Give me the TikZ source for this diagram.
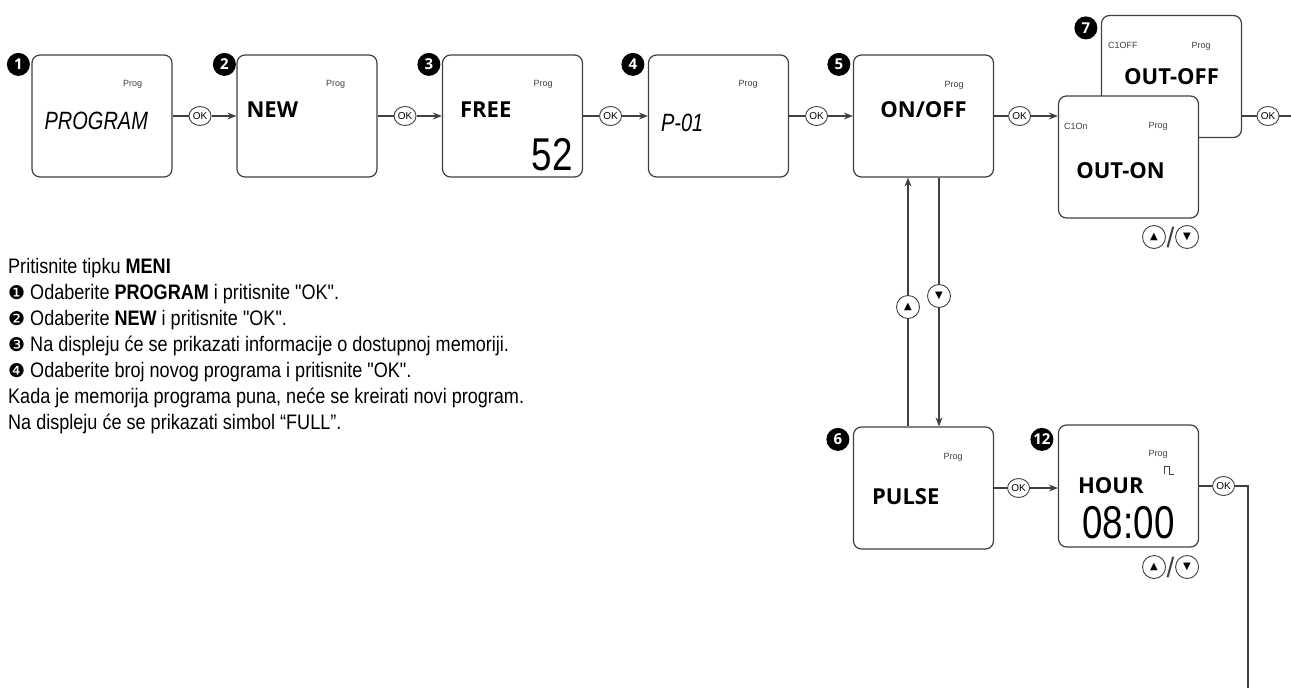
\documentclass[tikz,border=0pt]{standalone}
\usepackage{fontspec}
\setmainfont{Liberation Sans}
\newfontfamily\menufont{Liberation Sans}[FakeStretch=0.86]
\newfontfamily\dispfont{Open Sans}
\newfontfamily\segfont{Liberation Sans}[FakeStretch=0.8]
\newfontfamily\symfont{DejaVu Sans}
\usepackage{tikz}
\usetikzlibrary{arrows.meta,positioning,shapes.geometric}
\definecolor{lcd}{gray}{0.25}

\begin{document}
\begin{tikzpicture}[
      x=1pt, y=-1pt,
      every node/.style={font=\fontsize{9}{11}\selectfont},
      disp/.style={rectangle, draw=lcd, line width=1.2pt, rounded corners=8pt, fill=white,
                   minimum width=140pt, minimum height=122pt},
      badge/.style={circle, fill=black, text=white, minimum size=23pt, inner sep=0pt,
                    font=\dispfont\bfseries\fontsize{15}{15}\selectfont},
      okbtn/.style={ellipse, draw=lcd, line width=0.9pt, fill=white, minimum width=22pt,
                    minimum height=19pt, inner sep=0pt, font=\fontsize{10}{10}\selectfont},
      arrbtn/.style={circle, draw=lcd, line width=0.9pt, fill=white, minimum size=23pt,
                     inner sep=0pt, font=\symfont\fontsize{10}{10}\selectfont},
      slash/.style={inner sep=0pt, text=lcd, font=\fontsize{28}{28}\selectfont},
      prog/.style={inner sep=0pt, text=lcd, font=\fontsize{9}{9}\selectfont},
      word/.style={inner sep=0pt, font=\dispfont\bfseries\fontsize{22}{22}\selectfont},
      seg/.style={inner sep=0pt, font=\segfont\itshape\fontsize{25}{25}\selectfont},
      digits/.style={inner sep=0pt, font=\segfont\fontsize{46}{46}\selectfont},
      flow/.style={draw=lcd, line width=1.1pt},
      >={Stealth[length=9pt,width=7pt]},
    ]
    \useasboundingbox (0,0) rectangle (1291,688);

    % Display screens, top row
    \node[disp] (p1) at (102,116) {};
    \node[disp] (p2) at (307,116) {};
    \node[disp] (p3) at (512.5,116) {};
    \node[disp] (p4) at (718.5,116) {};
    \node[disp] (p5) at (923.5,116) {};

    % Step 7: two stacked screens (back one first)
    \node[disp] (p7off) at (1171.5,76.5) {};
    \node[prog, anchor=west] at ([shift={(7,31)}]p7off.north west) {C1OFF};
    \node[prog] at ([shift={(-41,31)}]p7off.north east) {Prog};
    \node[word] at ([shift={(0,62)}]p7off.north) {OUT-OFF};
    \node[disp] (p7on) at (1128.5,157) {};
    \node[prog, anchor=west] at ([shift={(6,31)}]p7on.north west) {C1On};
    \node[prog] at ([shift={(-41,31)}]p7on.north east) {Prog};
    \node[word] at ([shift={(-8,75)}]p7on.north) {OUT-ON};

    % Screens of the lower row
    \node[disp] (p6) at (923.5,488) {};
    \node[disp] (p12) at (1128.5,486) {};

    % Screen contents
    \node[prog] at ([shift={(-40,30)}]p1.north east) {Prog};
    \node[seg, anchor=west] at ([shift={(13,66)}]p1.north west) {PROGRAM};
    \node[prog] at ([shift={(-42,30)}]p2.north east) {Prog};
    \node[word, anchor=west] at ([shift={(10,55)}]p2.north west) {NEW};
    \node[prog] at ([shift={(-40,30)}]p3.north east) {Prog};
    \node[word, anchor=west] at ([shift={(18,55)}]p3.north west) {FREE};
    \node[digits, anchor=east] at ([shift={(-10,100)}]p3.north east) {52};
    \node[prog] at ([shift={(-41,30)}]p4.north east) {Prog};
    \node[seg, anchor=west] at ([shift={(13,68)}]p4.north west) {P-01};
    \node[prog] at ([shift={(-40,31)}]p5.north east) {Prog};
    \node[word] at ([shift={(0,55)}]p5.north) {ON/OFF};
    \node[prog] at ([shift={(-41,31)}]p6.north east) {Prog};
    \node[word, anchor=west] at ([shift={(19,70)}]p6.north west) {PULSE};
    \node[prog] at ([shift={(-41,30)}]p12.north east) {Prog};
    \draw[lcd, line width=0.6pt] ([shift={(-35,50)}]p12.north east)
      -- ++(0,-8) -- ++(5,0) -- ++(0,8) -- ++(5,0);
    \node[word, anchor=west] at ([shift={(20,61)}]p12.north west) {HOUR};
    \node[digits] at ([shift={(0,98)}]p12.north) {08:00};

    % Step numbers
    \node[badge] (b1) at ([shift={(-13,10)}]p1.north west) {1};
    \node[badge] (b2) at ([shift={(-12,10)}]p2.north west) {2};
    \node[badge] (b3) at ([shift={(-13,10)}]p3.north west) {3};
    \node[badge] (b4) at ([shift={(-15,10)}]p4.north west) {4};
    \node[badge] (b5) at ([shift={(-14,10)}]p5.north west) {5};
    \node[badge] (b7) at ([shift={(-15,13)}]p7off.north west) {7};
    \node[badge] (b6) at ([shift={(-15,13)}]p6.north west) {6};
    \node[badge] (b12) at ([shift={(-16,15)}]p12.north west) {12};

    % OK steps along the top row
    \foreach \a/\b in {p1/p2, p2/p3, p3/p4, p4/p5} {
      \node[okbtn, right=16pt of \a] (ok\a) {OK};
      \draw[flow] (\a) -- (ok\a);
      \draw[flow,->] (ok\a) -- (\b);
    }
    \node[okbtn, right=14pt of p5] (ok5) {OK};
    \draw[flow] (p5) -- (ok5);
    \draw[flow,->] (ok5) -- (ok5 -| p7on.west);
    \node[okbtn] (ok7) at (1268,116) {OK};
    \coordinate (out7) at (1291,116);
    \draw[flow] (ok7 -| p7off.east) -- (ok7);
    \draw[flow] (ok7) -- (out7);

    % Up / down between ON/OFF and PULSE
    \node[arrbtn] (upA) at (908,307) {▲};
    \node[arrbtn] (dnA) at (939,296) {▼};
    \draw[flow,->] (upA) -- (upA |- p5.south);
    \draw[flow] (upA |- p6.north) -- (upA);
    \draw[flow] (dnA |- p5.south) -- (dnA);
    \draw[flow,->] (dnA) -- (dnA |- p6.north);

    % Lower row
    \node[okbtn, right=13pt of p6] (ok6) {OK};
    \draw[flow] (ok6 -| p6.east) -- (ok6);
    \draw[flow,->] (ok6) -- (ok6 -| p12.west);
    \node[okbtn, right=13pt of p12] (ok12) {OK};
    \coordinate (end12) at (1248,688);
    \draw[flow] (p12) -- (ok12);
    \draw[flow] (ok12) -| (end12);

    % Up / down buttons under the screens
    \node[arrbtn] (up7) at (1154,237) {▲};
    \node[slash, right=0.5pt of up7] (sl7) {/};
    \node[arrbtn, right=0.5pt of sl7] (dn7) {▼};
    \node[arrbtn] (up12) at (1154,567) {▲};
    \node[slash, right=0.5pt of up12] (sl12) {/};
    \node[arrbtn, right=0.5pt of sl12] (dn12) {▼};

    % Instructions
    \node[anchor=north west, align=left, inner sep=0pt,
          font=\menufont\fontsize{21}{26}\selectfont] (howto) at (8,258)
      {Pritisnite tipku \textbf{MENI}\\
       {\symfont\fontsize{19}{19}\selectfont ❶} Odaberite \textbf{PROGRAM} i pritisnite "OK".\\
       {\symfont\fontsize{19}{19}\selectfont ❷} Odaberite \textbf{NEW} i pritisnite "OK".\\
       {\symfont\fontsize{19}{19}\selectfont ❸} Na displeju će se prikazati informacije o dostupnoj memoriji.\\
       {\symfont\fontsize{19}{19}\selectfont ❹} Odaberite broj novog programa i pritisnite "OK".\\
       Kada je memorija programa puna, neće se kreirati novi program.\\
       Na displeju će se prikazati simbol “FULL”.};
  \end{tikzpicture}
\end{document}
